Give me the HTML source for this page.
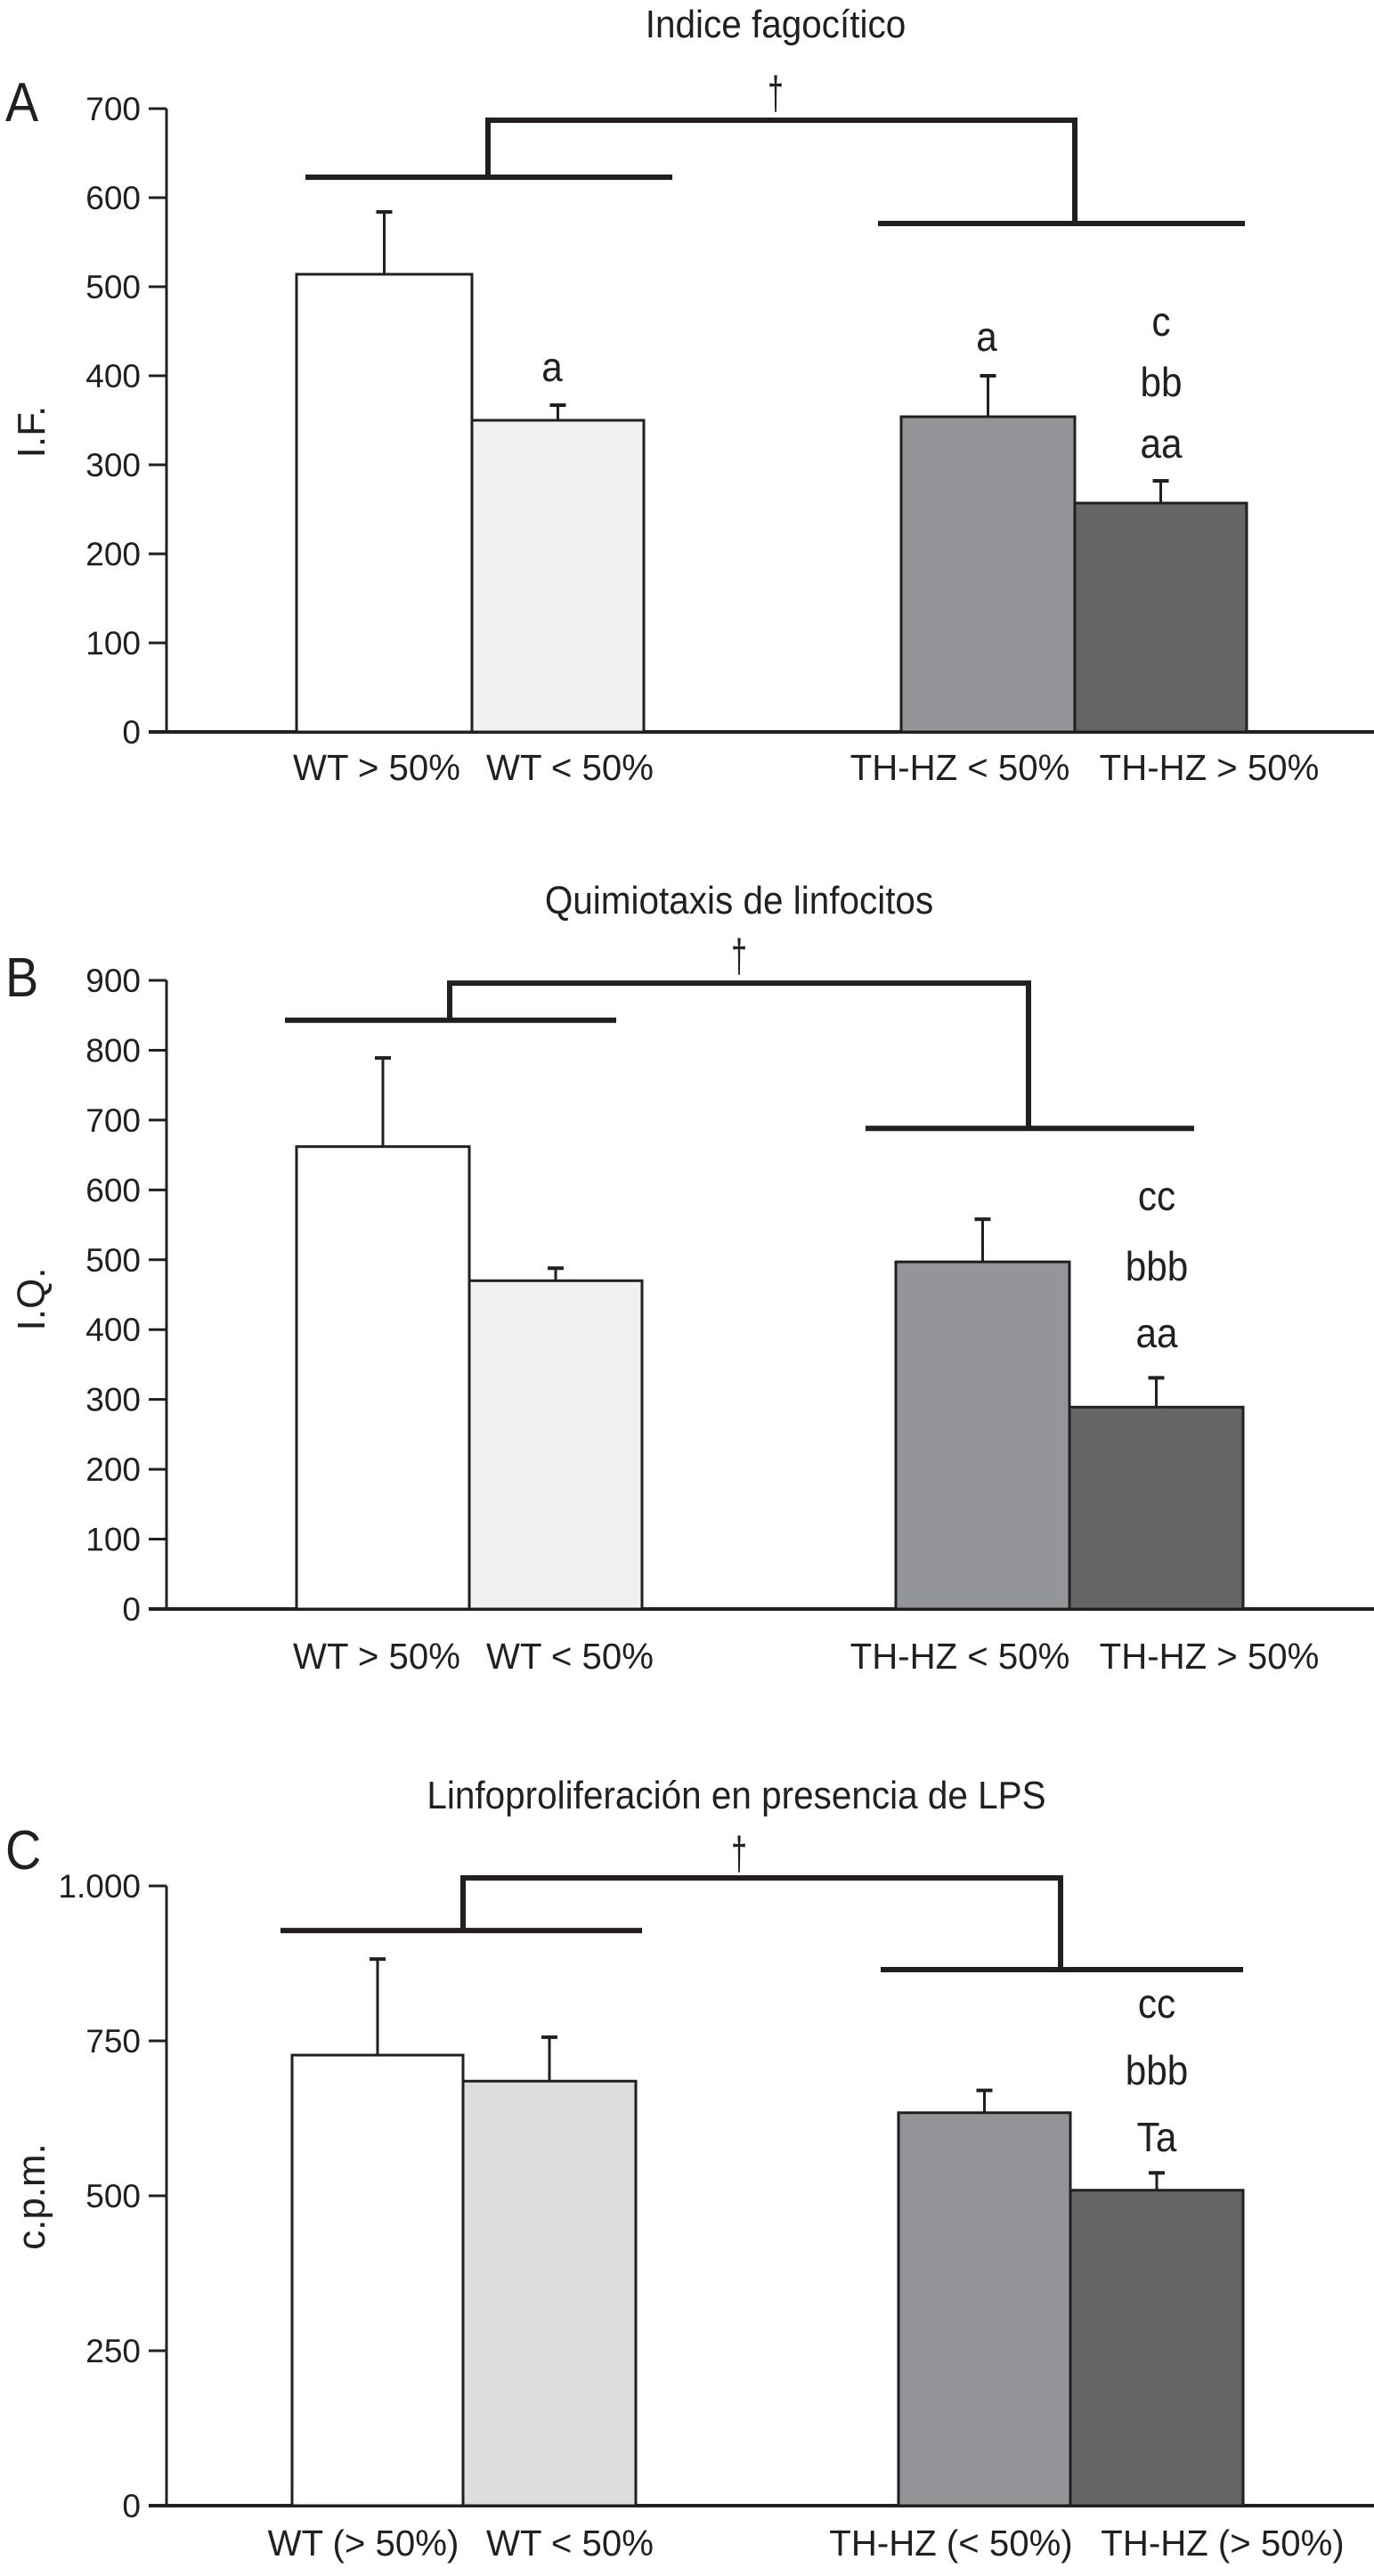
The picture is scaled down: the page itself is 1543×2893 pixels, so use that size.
<!DOCTYPE html>
<html><head><meta charset="utf-8">
<style>
html,body{margin:0;padding:0;background:#fff;}
svg{display:block;font-family:"Liberation Sans",sans-serif;}
</style></head>
<body>
<svg id="chart" width="1543" height="2893" viewBox="0 0 1543 2893" xmlns="http://www.w3.org/2000/svg"></svg>
<script>
const categoriesAB = ["WT > 50%", "WT < 50%", "TH-HZ < 50%", "TH-HZ > 50%"];
const categoriesC = ["WT (> 50%)", "WT < 50%", "TH-HZ (< 50%)", "TH-HZ (> 50%)"];
const valuesA = [514, 350, 354, 257];
const errorsA = [584, 367, 400, 282];
const valuesB = [662, 470, 497, 289];
const errorsB = [789, 488, 558, 331];
const valuesC = [727, 685, 634, 509];
const errorsC = [882, 756, 670, 537];
const ticksA = [0,100,200,300,400,500,600,700];
const ticksB = [0,100,200,300,400,500,600,700,800,900];
const ticksC = [0,250,500,750,1000];
const tickLabelsC = ["0","250","500","750","1.000"];
const bracketA = [623, 571, 687];
const bracketB = [843, 688, 896];
const bracketC = [928, 865, 1013];
const lettersA = [[], ["a"], ["a"], ["c","bb","aa"]];
const lettersB = [[], [], [], ["cc","bbb","aa"]];
const lettersC = [[], [], [], ["cc","bbb","Ta"]];
const colors = ["#ffffff", "#f0f1f0", "#939598", "#646567"];
const colorsC = ["#ffffff", "#dcdddf", "#939598", "#646567"];

const NS = "http://www.w3.org/2000/svg";
const svg = document.getElementById("chart");
function mk(tag, attrs, parent, txt){
  const e = document.createElementNS(NS, tag);
  for (const k in attrs) e.setAttribute(k, attrs[k]);
  if (txt !== undefined) e.textContent = txt;
  (parent || svg).appendChild(e);
  return e;
}
function txt(parent, x, y, size, anchor, sx, s){
  return mk("text", {x: 0, y: 0, "font-size": size, "text-anchor": anchor, fill: "#231f20",
    transform: `translate(${x},${y}) scale(${sx},1)`}, parent, s);
}

function panel(cfg){
  const g = mk("g", {});
  
  
  const y = v => cfg.y0 - v * (cfg.y0 - cfg.yTop) / cfg.vTop;
  const bx = [[cfg.bars[0], cfg.bars[1]], [cfg.bars[1], cfg.bars[2]], [cfg.bars[3], cfg.bars[4]], [cfg.bars[4], cfg.bars[5]]];
  const t = txt(g, cfg.titleX, cfg.titleY, 44, "middle", 0.92, cfg.title);
  
  
  const pl = txt(g, 6, cfg.letterY, 62, "start", 0.9, cfg.letter);
  
  
  const yt = mk("text", {x: 0, y: 0, "font-size": 44, "text-anchor": "middle", fill: "#231f20", transform: `translate(${cfg.ytX},${cfg.ytY}) rotate(-90)`}, g, cfg.yTitle);
  
  
  const ya = mk("line", {x1: 187, y1: y(cfg.vTop), x2: 187, y2: cfg.y0, stroke: "#231f20", "stroke-width": 3}, g);
  
  
  const xa = mk("line", {x1: 167, y1: cfg.y0, x2: 1543, y2: cfg.y0, stroke: "#231f20", "stroke-width": 4}, g);
  
  
  cfg.ticks.forEach((v, i) => {
    const tk = mk("line", {x1: 167, y1: y(v), x2: 187, y2: y(v), stroke: "#231f20", "stroke-width": 3}, g);
    
    
    const tl = txt(g, 158, y(v) + 13, 37, "end", 1.0, cfg.tickLabels ? cfg.tickLabels[i] : String(v));
    
    
  });
  cfg.values.forEach((v, i) => {
    const [x1, x2] = bx[i];
    const cx = (x1 + x2) / 2;
    const el = mk("line", {x1: cx, y1: y(cfg.errors[i]), x2: cx, y2: y(v), stroke: "#231f20", "stroke-width": 3}, g);
    
    
    const ec = mk("line", {x1: cx - 9, y1: y(cfg.errors[i]), x2: cx + 9, y2: y(cfg.errors[i]), stroke: "#231f20", "stroke-width": 4}, g);
    
    
    const r = mk("rect", {x: x1, y: y(v), width: x2 - x1, height: cfg.y0 - y(v), fill: cfg.colors[i], stroke: "#231f20", "stroke-width": 3}, g);
    
    
    const lb = txt(g, cfg.labelX[i], cfg.labelY, 41, "middle", 0.98, cfg.categories[i]);
    
    
    cfg.letters[i].forEach((s, j) => {
      const ly = cfg.letterYs[i][j];
      const lt = txt(g, cfg.letterXs[i], ly + 15, 46, "middle", 0.92, s);
      
      
    });
  });
  const b = cfg.bracket;
  const lx = cfg.brLeft, rx = cfg.brRight;
  const ljx = cfg.brJoin[0], rjx = cfg.brJoin[1];
  const p = mk("path", {d: `M${lx[0]},${y(b[0])} H${lx[1]} M${rx[0]},${y(b[1])} H${rx[1]} M${ljx},${y(b[0])} V${y(b[2])} H${rjx} V${y(b[1])}`, fill: "none", stroke: "#231f20", "stroke-width": 6}, g);
  
  
  const dg = mk("text", {x: 0, y: 0, "font-size": 40, "text-anchor": "middle", fill: "#231f20", transform: `translate(${cfg.daggerX},${cfg.daggerY}) scale(0.8,1.3)`}, g, "†");
  
  
}

panel({name: "panel-a", title: "Indice fagocítico", titleX: 871, titleY: 42, letter: "A", letterY: 136,
  yTitle: "I.F.", ytX: 50, ytY: 485, y0: 822, yTop: 122, vTop: 700, ticks: ticksA,
  values: valuesA, errors: errorsA, colors: colors, categories: categoriesAB,
  bars: [333, 530, 723, 1012, 1207, 1400], labelX: [423, 640, 1078, 1358], labelY: 876,
  letters: lettersA, letterXs: [0, 620, 1108, 1304], letterYs: [[], [413], [379], [362, 430, 499]],
  bracket: bracketA, brLeft: [343, 755], brRight: [986, 1398], brJoin: [548, 1207], daggerX: 871, daggerY: 122});

panel({name: "panel-b", title: "Quimiotaxis de linfocitos", titleX: 830, titleY: 1026, letter: "B", letterY: 1119,
  yTitle: "I.Q.", ytX: 50, ytY: 1459, y0: 1807, yTop: 1101, vTop: 900, ticks: ticksB,
  values: valuesB, errors: errorsB, colors: colors, categories: categoriesAB,
  bars: [333, 527, 721, 1006, 1201, 1396], labelX: [423, 640, 1078, 1358], labelY: 1874,
  letters: lettersB, letterXs: [0, 0, 0, 1299], letterYs: [[], [], [], [1344, 1423, 1498]],
  bracket: bracketB, brLeft: [320, 692], brRight: [972, 1341], brJoin: [505, 1155], daggerX: 830, daggerY: 1091});

panel({name: "panel-c", title: "Linfoproliferación en presencia de LPS", titleX: 827, titleY: 2031, letter: "C", letterY: 2099,
  yTitle: "c.p.m.", ytX: 50, ytY: 2467, y0: 2814, yTop: 2118, vTop: 1000, ticks: ticksC, tickLabels: tickLabelsC,
  values: valuesC, errors: errorsC, colors: colorsC, categories: categoriesC,
  bars: [328, 520, 714, 1009, 1202, 1396], labelX: [408, 640, 1068, 1373], labelY: 2870,
  letters: lettersC, letterXs: [0, 0, 0, 1299], letterYs: [[], [], [], [2251, 2326, 2401]],
  bracket: bracketC, brLeft: [315, 721], brRight: [989, 1396], brJoin: [520, 1191], daggerX: 830, daggerY: 2099});
</script>
</body></html>
